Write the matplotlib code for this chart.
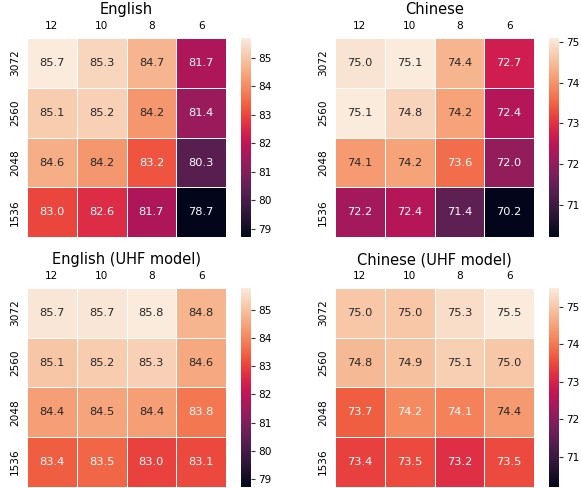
import numpy as np
import matplotlib
matplotlib.use('Agg')
import matplotlib.pyplot as plt
import seaborn as sns

# data
layers = ['12', '10', '8', '6']
dims = ['3072', '2560', '2048', '1536']

english = np.array([[85.7, 85.3, 84.7, 81.7],
                    [85.1, 85.2, 84.2, 81.4],
                    [84.6, 84.2, 83.2, 80.3],
                    [83.0, 82.6, 81.7, 78.7]])
chinese = np.array([[75.0, 75.1, 74.4, 72.7],
                    [75.1, 74.8, 74.2, 72.4],
                    [74.1, 74.2, 73.6, 72.0],
                    [72.2, 72.4, 71.4, 70.2]])
english_uhf = np.array([[85.7, 85.7, 85.8, 84.8],
                        [85.1, 85.2, 85.3, 84.6],
                        [84.4, 84.5, 84.4, 83.8],
                        [83.4, 83.5, 83.0, 83.1]])
chinese_uhf = np.array([[75.0, 75.0, 75.3, 75.5],
                        [74.8, 74.9, 75.1, 75.0],
                        [73.7, 74.2, 74.1, 74.4],
                        [73.4, 73.5, 73.2, 73.5]])


def draw(fig, data, title, pos, cpos, vmin, vmax, cticks):
    ax = fig.add_axes(pos)
    cax = fig.add_axes(cpos)
    sns.heatmap(data, ax=ax, cbar_ax=cax, annot=True, fmt='.1f',
                vmin=vmin, vmax=vmax, cmap='rocket', linewidths=0.7,
                linecolor='white', xticklabels=layers, yticklabels=dims,
                annot_kws={'fontsize': 8.2})
    ax.xaxis.tick_top()
    ax.tick_params(length=0, labelsize=7.6, pad=5)
    ax.set_yticklabels(dims, rotation=90, va='center')
    ax.set_title(title, fontsize=10.5, pad=5)
    cax.set_yticks(cticks)
    cax.tick_params(labelsize=7.6, length=3, width=0.8, pad=2, color='#333333')
    cax.set_frame_on(False)


fig = plt.figure(figsize=(5.81, 4.88), dpi=100)

w, h = 0.3425, 0.408
cw = 0.0172
draw(fig, english, 'English', [0.0465, 0.514, w, h], [0.415, 0.514, cw, h],
     english.min(), english.max(), range(79, 86))
draw(fig, chinese, 'Chinese', [0.5766, 0.514, w, h], [0.945, 0.514, cw, h],
     chinese.min(), chinese.max(), range(71, 76))
draw(fig, english_uhf, 'English (UHF model)', [0.0465, 0.002, w, h], [0.415, 0.002, cw, h],
     english.min(), english_uhf.max(), range(79, 86))
draw(fig, chinese_uhf, 'Chinese (UHF model)', [0.5766, 0.002, w, h], [0.945, 0.002, cw, h],
     chinese.min(), chinese_uhf.max(), range(71, 76))

fig.savefig('out.png', dpi=100)
